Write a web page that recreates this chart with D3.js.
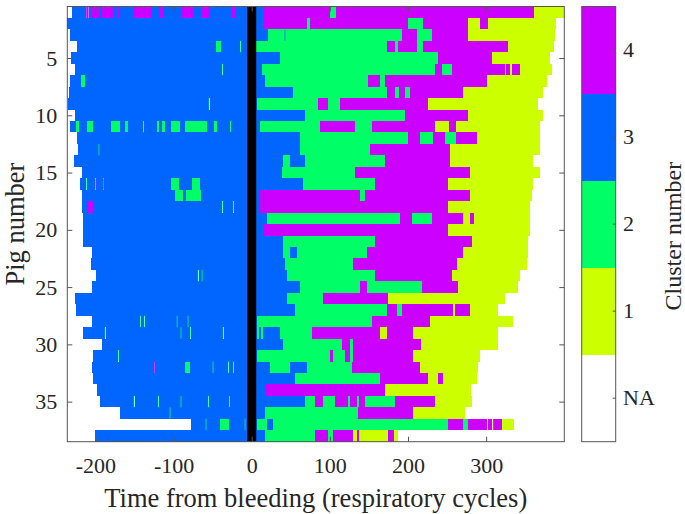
<!DOCTYPE html>
<html><head><meta charset="utf-8">
<script src="https://cdn.jsdelivr.net/npm/d3@7"></script>
<style>
body{margin:0;background:#fff}
svg{display:block}
text{font-family:"Liberation Serif","Times New Roman",serif;fill:#262626}
</style>
</head><body><svg id="chart" width="685" height="514"></svg>
<script>
// ---------------- data ----------------
const pigNumbers = d3.range(1, 39);
const xTicks = [-200, -100, 0, 100, 200, 300];
const yTicks = [5, 10, 15, 20, 25, 30, 35];
const clusterKeys = [4, 3, 2, 1, 0];            // top -> bottom in colour bar
const clusterLabels = ["4", "3", "2", "1", "NA"];
const clusterColors = ["#ffffff", "#ccff00", "#00ff66", "#0066ff", "#cc00ff"]; // index = cluster (0 = NA)
const bleedTime = 0;

// last recorded cycle per pig
const rowEnd = [400,390,388,387,382,384,378,373,366,373,369,369,369,360,369,360,359,356,356,356,
                353,353,352,343,341,324,315,334,315,315,292,289,288,281,282,273,335,187];

// per pig: change points [cycle, cluster] (segment lasts until next change / rowEnd)
const runs = [
 [[-230,3],[-212,4],[-211,3],[-209,4],[-208,3],[-205,4],[-194,3],[-191,4],[-178,3],[-172,4],[-170,3],[-151,4],[-128,3],[-117,4],[-112,3],[-89,4],[-75,3],[-65,4],[-54,3],[-27,4],[-22,3],[14,4],[100,2],[108,4],[361,1]],
 [[-236,3],[14,4],[71,2],[74,4],[200,2],[219,4],[277,1],[292,4],[302,1]],
 [[-233,3],[21,2],[42,3],[43,2],[192,4],[211,2],[231,4],[277,1]],
 [[-224,3],[-46,2],[-39,3],[-15,2],[-14,3],[6,2],[173,4],[183,2],[187,4],[211,2],[219,4],[328,1]],
 [[-231,3],[36,2],[238,4],[307,1]],
 [[-226,3],[-38,2],[-37,3],[13,2],[234,4],[244,2],[256,4],[324,1],[326,4],[331,1],[333,4],[343,1]],
 [[-233,3],[-218,2],[-213,3],[17,2],[149,4],[164,2],[170,4],[301,1]],
 [[-234,3],[53,2],[173,4],[183,2],[189,4],[196,2],[202,4],[270,1]],
 [[-235,3],[-55,2],[-54,3],[7,2],[85,4],[97,2],[113,4],[225,1]],
 [[-226,3],[68,2],[196,4],[277,1]],
 [[-233,3],[-225,2],[-221,3],[-211,2],[-203,3],[-180,2],[-169,3],[-162,2],[-158,3],[-139,2],[-138,3],[-121,2],[-119,3],[-115,2],[-111,3],[-103,2],[-92,3],[-86,2],[-57,3],[-48,2],[-45,3],[-28,2],[-26,3],[10,2],[87,4],[132,2],[154,4],[234,1],[253,4],[262,1]],
 [[-224,3],[62,2],[200,4],[215,2],[232,4],[247,2],[262,4],[288,1]],
 [[-222,3],[-196,2],[-195,3],[62,2],[151,4],[254,1]],
 [[-228,3],[40,2],[49,3],[68,2],[170,4],[254,1]],
 [[-217,3],[39,2],[132,4],[279,1]],
 [[-220,3],[-212,2],[-211,3],[-200,4],[-199,3],[-190,4],[-189,3],[-103,2],[-93,3],[-76,2],[-66,3],[65,2],[158,4],[251,1]],
 [[-217,3],[-98,2],[-88,3],[-84,2],[-65,3],[10,4],[138,2],[145,4],[279,1]],
 [[-217,3],[-211,4],[-203,3],[-38,2],[-37,3],[-24,2],[-23,3],[10,4],[251,1]],
 [[-216,3],[19,2],[190,4],[205,2],[231,4],[270,1],[279,4],[285,1]],
 [[-216,3],[14,4],[251,1]],
 [[-216,3],[40,2],[158,4],[282,1]],
 [[-205,3],[40,2],[49,3],[58,2],[148,4],[270,1]],
 [[-206,3],[42,2],[129,4],[263,1]],
 [[-199,3],[-69,2],[-68,3],[-64,2],[-63,3],[45,2],[158,4],[256,1]],
 [[-205,3],[62,2],[138,4],[147,2],[218,4],[264,1]],
 [[-226,3],[45,2],[91,4],[174,1]],
 [[-225,3],[55,2],[173,4],[186,2],[192,4],[257,1],[260,4],[279,1]],
 [[-204,3],[-143,2],[-142,3],[-138,2],[-137,3],[-96,2],[-95,3],[-82,2],[-81,3],[7,2],[154,4],[228,1]],
 [[-216,3],[-188,2],[-187,3],[-91,2],[-90,3],[-79,2],[-78,3],[-37,2],[-36,3],[7,2],[9,3],[12,2],[14,3],[36,2],[77,4],[164,1],[173,4],[206,1]],
 [[-192,3],[40,2],[115,4],[126,2],[130,4],[217,1]],
 [[-203,3],[-171,2],[-170,3],[7,2],[100,4],[104,2],[119,4],[126,2],[130,4],[206,1]],
 [[-204,3],[-125,4],[-124,3],[-86,2],[-79,3],[-50,2],[-49,3],[-30,2],[-29,3],[-24,2],[-23,3],[23,2],[49,3],[71,2],[128,4],[215,1]],
 [[-203,3],[55,2],[164,4],[226,1],[238,4],[245,1]],
 [[-198,3],[17,4],[170,1]],
 [[-194,3],[-151,2],[-150,3],[-120,2],[-119,3],[-91,2],[-90,3],[-56,2],[-55,3],[-29,2],[-28,3],[68,2],[81,4],[91,2],[106,4],[123,2],[126,4],[135,2],[137,4],[145,2],[183,4],[234,1]],
 [[-169,3],[-105,2],[-104,3],[17,2],[136,4],[206,1]],
 [[-78,3],[-59,2],[-58,3],[-40,2],[-29,3],[-9,2],[-8,3],[7,2],[19,3],[27,2],[251,4],[270,2],[277,4],[301,1],[302,4],[308,1],[309,4],[320,1]],
 [[-200,3],[17,2],[81,4],[97,2],[104,4],[129,1],[135,4],[137,1],[174,4],[182,1]]
];

// ---------------- layout ----------------
const svg = d3.select("#chart");
const X0 = 67.3, X1 = 564.3, Y0 = 6.5, Y1 = 441.7;
const x = d3.scaleLinear().domain([-236, 400]).range([X0, X1]);
const y = d3.scaleLinear().domain([0.5, 38.5]).range([Y0, Y1]);
const axisColor = "#555";

// build segments
const segs = [];
runs.forEach((row, i) => {
  const pig = pigNumbers[i];
  row.forEach((r, j) => {
    const t0 = r[0];
    const t1 = j + 1 < row.length ? row[j + 1][0] : rowEnd[i];
    segs.push({pig, t0, t1, c: r[1]});
  });
});
const wide = segs.filter(d => d.t1 - d.t0 >= 2);
const thin = segs.filter(d => d.t1 - d.t0 < 2);

const plot = svg.append("g");
plot.selectAll("rect.w").data(wide).join("rect").attr("class", "w")
  .attr("x", d => x(d.t0)).attr("width", d => x(d.t1) - x(d.t0))
  .attr("y", d => y(d.pig - 0.5)).attr("height", d => y(d.pig + 0.5) - y(d.pig - 0.5))
  .attr("fill", d => clusterColors[d.c]).attr("shape-rendering", "crispEdges");
plot.selectAll("rect.t").data(thin).join("rect").attr("class", "t")
  .attr("x", d => x(d.t0)).attr("width", d => x(d.t1) - x(d.t0))
  .attr("y", d => y(d.pig - 0.5)).attr("height", d => y(d.pig + 0.5) - y(d.pig - 0.5))
  .attr("fill", d => clusterColors[d.c]);

// bleeding line
svg.append("line")
  .attr("x1", x(bleedTime)).attr("x2", x(bleedTime))
  .attr("y1", Y0).attr("y2", Y1)
  .attr("stroke", "#000").attr("stroke-width", 9);

// axes
const fmt = d => String(d);   // plain hyphen minus, as in the original
function styleAxis(g, labels) {
  g.select(".domain").remove();
  g.selectAll(".tick line").attr("stroke", axisColor);
  g.selectAll(".tick text").attr("font-size", 22).attr("fill", "#262626")
    .attr("font-family", "Liberation Serif, serif");
  if (!labels) g.selectAll(".tick text").remove();
}
svg.append("g").attr("transform", `translate(0,${Y1})`)
  .call(d3.axisBottom(x).tickValues(xTicks).tickFormat(fmt).tickSize(-5).tickPadding(16))
  .call(g => styleAxis(g, true));
svg.append("g").attr("transform", `translate(0,${Y0})`)
  .call(d3.axisTop(x).tickValues(xTicks).tickSize(-5))
  .call(g => styleAxis(g, false));
svg.append("g").attr("transform", `translate(${X0},0)`)
  .call(d3.axisLeft(y).tickValues(yTicks).tickFormat(fmt).tickSize(-5).tickPadding(10))
  .call(g => styleAxis(g, true));
svg.append("g").attr("transform", `translate(${X1},0)`)
  .call(d3.axisRight(y).tickValues(yTicks).tickSize(-5))
  .call(g => styleAxis(g, false));
svg.append("rect").attr("x", X0).attr("y", Y0).attr("width", X1 - X0).attr("height", Y1 - Y0)
  .attr("fill", "none").attr("stroke", axisColor).attr("stroke-width", 1);

// axis titles
svg.append("text").attr("x", (X0 + X1) / 2).attr("y", 507).attr("text-anchor", "middle")
  .attr("font-size", 26.5).text("Time from bleeding (respiratory cycles)");
svg.append("text").attr("transform", `translate(24,${(Y0 + Y1) / 2}) rotate(-90)`)
  .attr("text-anchor", "middle").attr("font-size", 26.5).text("Pig number");

// colour bar
const CB0 = 581.7, CB1 = 615.7;
const cy = d3.scaleBand().domain(clusterKeys).range([Y0, Y1]);
const cb = svg.append("g");
cb.selectAll("rect").data(clusterKeys).join("rect")
  .attr("x", CB0).attr("width", CB1 - CB0)
  .attr("y", d => cy(d)).attr("height", cy.bandwidth())
  .attr("fill", d => clusterColors[d]).attr("shape-rendering", "crispEdges");
cb.append("rect").attr("x", CB0).attr("y", Y0).attr("width", CB1 - CB0).attr("height", Y1 - Y0)
  .attr("fill", "none").attr("stroke", axisColor).attr("stroke-width", 1);
cb.selectAll("line.tk").data(clusterKeys).join("line").attr("class", "tk")
  .attr("x1", CB1 - 3).attr("x2", CB1)
  .attr("y1", d => cy(d) + cy.bandwidth() / 2).attr("y2", d => cy(d) + cy.bandwidth() / 2)
  .attr("stroke", axisColor);
cb.selectAll("text.lb").data(clusterKeys).join("text").attr("class", "lb")
  .attr("x", 623).attr("y", d => cy(d) + cy.bandwidth() / 2).attr("dy", "0.33em")
  .attr("font-size", 22).text((d, i) => clusterLabels[i]);
svg.append("text").attr("transform", `translate(681,${(Y0 + Y1) / 2 + 12}) rotate(-90)`)
  .attr("text-anchor", "middle").attr("font-size", 24).text("Cluster number");
</script>
</body></html>
